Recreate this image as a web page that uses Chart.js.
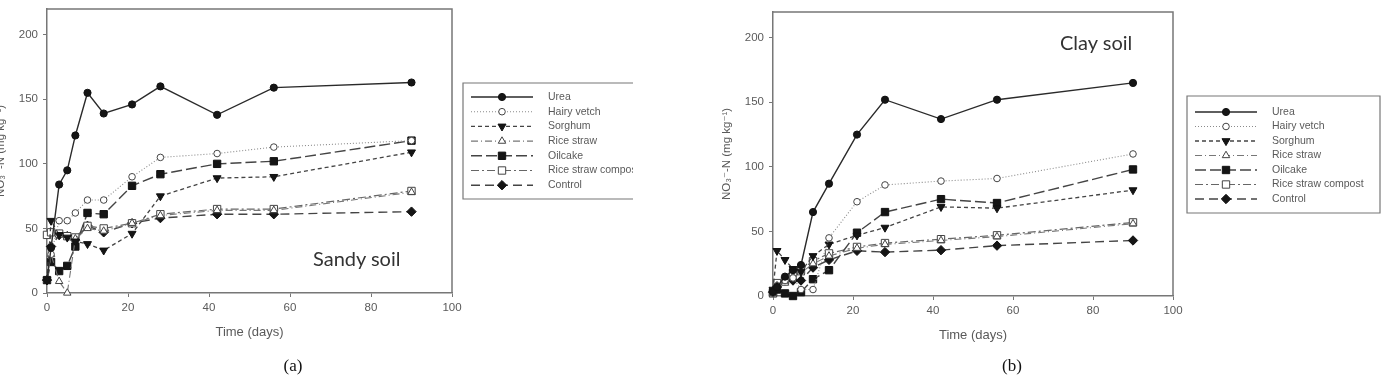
<!DOCTYPE html>
<html>
<head>
<meta charset="utf-8">
<script src="https://cdn.jsdelivr.net/npm/chart.js"></script>
<style>
html, body { margin: 0; padding: 0; background: #fff; width: 1389px; height: 381px; overflow: hidden; position: relative; }
canvas { position: absolute; }
#sandyChart { left: -6px; top: -3px; }
#clayChart { left: 720px; top: 0px; }
.note { position: absolute; font-family: Lato, "Open Sans", sans-serif; font-size: 20px; color: #333; white-space: nowrap; }
.cap { position: absolute; width: 40px; text-align: center; font-family: "Liberation Serif", "DejaVu Serif", serif; font-size: 17px; color: #111; }
</style>
</head>
<body>
<canvas id="sandyChart" width="690" height="381"></canvas>
<canvas id="clayChart" width="690" height="381"></canvas>
<div class="note" style="left:313px; top:246px;">Sandy soil</div>
<div class="note" style="left:1060px; top:30px;">Clay soil</div>
<div class="cap" style="left:273px; top:356px;">(a)</div>
<div class="cap" style="left:992px; top:356px;">(b)</div>
<script>
// sampling days
const days = [0, 1, 3, 5, 7, 10, 14, 21, 28, 42, 56, 90];
const treatments = ['Urea', 'Hairy vetch', 'Sorghum', 'Rice straw', 'Oilcake', 'Rice straw compost', 'Control'];
const xTicks = [0, 20, 40, 60, 80, 100];
const yTicks = [0, 50, 100, 150, 200];

// (a) sandy soil, NO3-N mg/kg
const sandyUrea = [10, 35, 84, 95, 122, 155, 139, 146, 160, 138, 159, 163];
const sandyHairyVetch = [10, 30, 56, 56, 62, 72, 72, 90, 105, 108, 113, 118];
const sandySorghum = [10, 56, 45, 43, 40, 38, 33, 46, 75, 89, 90, 109];
const sandyRiceStraw = [10, 30, 9, 0, 42, 50, 48, 54, 60, 64, 64, 78];
const sandyOilcake = [10, 24, 17, 21, 36, 62, 61, 83, 92, 100, 102, 118];
const sandyCompost = [45, 47, 46, 44, 43, 52, 50, 54, 61, 65, 65, 79];
const sandyControl = [10, 36, 45, 44, 41, 52, 47, 54, 58, 61, 61, 63];

// (b) clay soil
const clayUrea = [3, 7, 15, 20, 24, 65, 87, 125, 152, 137, 152, 165];
const clayHairyVetch = [2, 8, 12, 14, 5, 5, 45, 73, 86, 89, 91, 110];
const claySorghum = [5, 35, 28, 21, 19, 31, 40, 47, 53, 69, 68, 82];
const clayRiceStraw = [2, 8, 10, 15, 18, 25, 31, 37, 40, 43, 46, 56];
const clayOilcake = [3, 5, 2, 0, 3, 13, 20, 49, 65, 75, 72, 98];
const clayCompost = [2, 10, 12, 18, 20, 27, 33, 38, 41, 44, 47, 57];
const clayControl = [3, 7, 12, 12, 12, 22, 28, 35, 34, 35.5, 39, 43];

// line / marker look per treatment
const looks = [
    { color: '#2a2a2a', dash: [], width: 1.4, point: 'circle', rotation: 0, fill: '#151515', radius: 3.6 },
    { color: '#8a8a8a', dash: [1, 2], width: 1.1, point: 'circle', rotation: 0, fill: '#fff', radius: 3.3 },
    { color: '#444', dash: [4, 3], width: 1.3, point: 'triangle', rotation: 180, fill: '#151515', radius: 4.6 },
    { color: '#777', dash: [7, 3, 1, 3], width: 1.1, point: 'triangle', rotation: 0, fill: '#fff', radius: 4.3 },
    { color: '#444', dash: [11, 4], width: 1.4, point: 'rect', rotation: 0, fill: '#151515', radius: 5.2 },
    { color: '#666', dash: [8, 3, 2, 3], width: 1.2, point: 'rect', rotation: 0, fill: '#fff', radius: 5.2 },
    { color: '#444', dash: [9, 5], width: 1.4, point: 'rectRot', rotation: 0, fill: '#151515', radius: 4.7 }
];

function buildDatasets(seriesList) {
    return seriesList.map((vals, i) => {
        const lk = looks[i];
        return {
            label: treatments[i],
            data: days.map((d, j) => ({ x: d, y: vals[j] })),
            borderColor: lk.color,
            borderDash: lk.dash,
            borderWidth: lk.width,
            pointStyle: lk.point,
            rotation: lk.rotation,
            pointRadius: lk.radius,
            pointBackgroundColor: lk.fill,
            pointBorderColor: lk.fill === '#fff' ? '#444' : '#111',
            pointBorderWidth: 1,
            fill: false,
            tension: 0,
            clip: 6
        };
    });
}

// marker for the legend rows
function drawMarker(ctx, ds, x, y) {
    const r = ds.pointRadius;
    ctx.save();
    ctx.fillStyle = ds.pointBackgroundColor;
    ctx.strokeStyle = ds.pointBorderColor;
    ctx.lineWidth = 1;
    ctx.beginPath();
    if (ds.pointStyle === 'circle') {
        ctx.arc(x, y, r, 0, Math.PI * 2);
    } else if (ds.pointStyle === 'triangle') {
        const s = ds.rotation === 180 ? -1 : 1;
        ctx.moveTo(x, y - s * r);
        ctx.lineTo(x + r * 0.87, y + s * r * 0.5);
        ctx.lineTo(x - r * 0.87, y + s * r * 0.5);
        ctx.closePath();
    } else if (ds.pointStyle === 'rect') {
        const h = r * Math.SQRT1_2;
        ctx.rect(x - h, y - h, 2 * h, 2 * h);
    } else {
        ctx.moveTo(x, y - r);
        ctx.lineTo(x + r, y);
        ctx.lineTo(x, y + r);
        ctx.lineTo(x - r, y);
        ctx.closePath();
    }
    ctx.fill();
    ctx.stroke();
    ctx.restore();
}

// top and right sides of the plot box
const framePlugin = {
    id: 'frame',
    beforeDatasetsDraw(chart) {
        const { ctx, chartArea: a } = chart;
        ctx.save();
        ctx.strokeStyle = '#777';
        ctx.lineWidth = 1.5;
        ctx.beginPath();
        ctx.moveTo(a.left, a.top);
        ctx.lineTo(a.right, a.top);
        ctx.lineTo(a.right, a.bottom);
        ctx.stroke();
        ctx.restore();
    }
};

// SigmaPlot style legend box
const boxLegend = {
    id: 'boxLegend',
    afterDraw(chart, args, opts) {
        const ctx = chart.ctx;
        const left = chart.chartArea.right + opts.gap;
        const right = left + opts.width;
        const top = opts.top, bottom = opts.top + opts.height;
        ctx.save();
        ctx.strokeStyle = '#777';
        ctx.lineWidth = 1.2;
        ctx.beginPath();
        if (opts.closed) {
            ctx.rect(left, top, right - left, bottom - top);
        } else {
            ctx.moveTo(right, top);
            ctx.lineTo(left, top);
            ctx.lineTo(left, bottom);
            ctx.lineTo(right, bottom);
        }
        ctx.stroke();
        ctx.beginPath();
        ctx.rect(left, top, right - left, bottom - top);
        ctx.clip();
        chart.data.datasets.forEach((ds, i) => {
            const y = top + opts.first + i * opts.row;
            const x0 = left + 8, x1 = left + 70;
            ctx.strokeStyle = ds.borderColor;
            ctx.lineWidth = ds.borderWidth;
            ctx.setLineDash(ds.borderDash);
            ctx.beginPath();
            ctx.moveTo(x0, y);
            ctx.lineTo(x1, y);
            ctx.stroke();
            ctx.setLineDash([]);
            drawMarker(ctx, ds, (x0 + x1) / 2, y);
            ctx.fillStyle = '#5a5a5a';
            ctx.font = '10.5px "Liberation Sans", Arial, sans-serif';
            ctx.textBaseline = 'middle';
            ctx.fillText(ds.label, left + 85, y);
        });
        ctx.restore();
    }
};

const tickFont = { family: '"Liberation Sans", Arial, sans-serif', size: 11.5 };

function makeChart(id, seriesList, padRight, legendOpts) {
    new Chart(document.getElementById(id), {
        type: 'line',
        data: { datasets: buildDatasets(seriesList) },
        options: {
            responsive: false,
            animation: false,
            layout: { padding: { top: 6, right: padRight, bottom: 38, left: 0 } },
            plugins: {
                legend: { display: false },
                tooltip: { enabled: false },
                boxLegend: legendOpts
            },
            scales: {
                x: {
                    type: 'linear',
                    min: 0,
                    max: 100,
                    afterBuildTicks: s => { s.ticks = xTicks.map(v => ({ value: v })); },
                    afterFit: s => { s.height = 47; },
                    grid: { drawOnChartArea: false, drawTicks: true, tickLength: 4, color: '#777' },
                    border: { color: '#777', width: 1.5 },
                    ticks: { font: tickFont, color: '#5a5a5a', padding: 4, maxRotation: 0 },
                    title: { display: true, text: 'Time (days)', font: { family: '"Liberation Sans", Arial, sans-serif', size: 13 }, color: '#5a5a5a', padding: 0 }
                },
                y: {
                    min: 0,
                    max: 220,
                    afterBuildTicks: s => { s.ticks = yTicks.map(v => ({ value: v })); },
                    afterFit: s => { s.width = 53; },
                    grid: { drawOnChartArea: false, drawTicks: true, tickLength: 4, color: '#777' },
                    border: { color: '#777', width: 1.5 },
                    ticks: { font: tickFont, color: '#5a5a5a', padding: 5 },
                    title: { display: true, text: 'NO₃⁻-N (mg kg⁻¹)', font: { family: '"Liberation Sans", "DejaVu Sans", Arial, sans-serif', size: 11.5 }, color: '#5a5a5a', padding: 0 }
                }
            }
        },
        plugins: [framePlugin, boxLegend]
    });
}

makeChart('sandyChart',
    [sandyUrea, sandyHairyVetch, sandySorghum, sandyRiceStraw, sandyOilcake, sandyCompost, sandyControl],
    232,
    { gap: 11, width: 170, top: 86, height: 116, first: 14, row: 14.7, closed: false });

makeChart('clayChart',
    [clayUrea, clayHairyVetch, claySorghum, clayRiceStraw, clayOilcake, clayCompost, clayControl],
    237,
    { gap: 14, width: 193, top: 96, height: 117, first: 16, row: 14.5, closed: true });
</script>
</body>
</html>
